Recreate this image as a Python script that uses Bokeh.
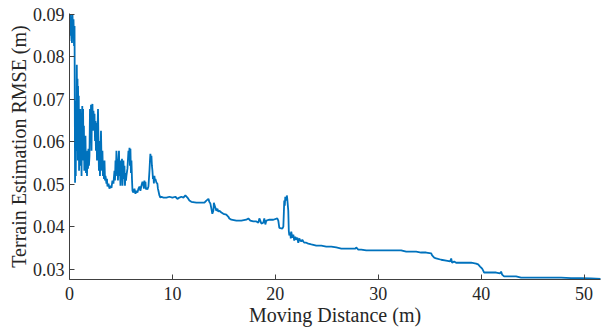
from bokeh.plotting import figure
from bokeh.models import Range1d, FixedTicker, ColumnDataSource
from bokeh.embed import file_html
from bokeh.resources import INLINE

distance = [
    0.00, 0.05, 0.10, 0.15, 0.19, 0.24, 0.29, 0.34, 0.39, 0.44,
    0.49, 0.51, 0.54, 0.58, 0.61, 0.64, 0.68, 0.71, 0.74, 0.78,
    0.81, 0.83, 0.87, 0.90, 0.93, 0.97, 1.01, 1.05, 1.09, 1.13,
    1.17, 1.20, 1.24, 1.28, 1.32, 1.36, 1.40, 1.44, 1.48, 1.51,
    1.55, 1.60, 1.65, 1.70, 1.75, 1.80, 1.84, 1.89, 1.94, 1.99,
    2.04, 2.09, 2.14, 2.18, 2.23, 2.28, 2.33, 2.38, 2.43, 2.48,
    2.52, 2.57, 2.62, 2.67, 2.72, 2.77, 2.82, 2.86, 2.91, 2.96,
    3.01, 3.06, 3.11, 3.16, 3.20, 3.25, 3.30, 3.35, 3.40, 3.45,
    3.50, 3.59, 3.64, 3.69, 3.79, 3.88, 3.98, 4.08, 4.17, 4.27,
    4.37, 4.42, 4.47, 4.51, 4.56, 4.61, 4.66, 4.71, 4.76, 4.81,
    4.85, 4.90, 4.95, 5.00, 5.05, 5.10, 5.15, 5.19, 5.24, 5.29,
    5.34, 5.39, 5.44, 5.49, 5.53, 5.63, 5.73, 5.78, 5.83, 5.87,
    5.92, 5.97, 6.02, 6.07, 6.12, 6.21, 6.31, 6.41, 6.50, 6.60,
    6.70, 6.80, 6.89, 6.99, 7.09, 7.18, 7.23, 7.28, 7.33, 7.38,
    7.43, 7.48, 7.57, 7.67, 7.72, 7.77, 7.82, 7.86, 7.91, 7.96,
    8.01, 8.06, 8.11, 8.16, 8.20, 8.25, 8.30, 8.35, 8.45, 8.54,
    8.59, 8.64, 8.74, 8.83, 8.93, 9.13, 9.42, 9.71, 10.00, 10.29,
    10.49, 10.68, 10.87, 11.07, 11.26, 11.46, 11.65, 11.84, 12.33, 12.82,
    13.11, 13.30, 13.50, 13.59, 13.69, 13.79, 13.88, 13.98, 14.03, 14.08,
    14.18, 14.27, 14.37, 14.47, 14.56, 14.76, 14.95, 15.24, 15.44, 15.53,
    15.73, 16.21, 16.70, 17.18, 17.38, 17.57, 17.86, 18.16, 18.35, 18.45,
    18.54, 18.64, 18.83, 18.93, 19.03, 19.13, 19.42, 19.81, 20.19, 20.29,
    20.39, 20.68, 20.78, 20.83, 20.87, 20.92, 20.97, 21.07, 21.12, 21.17,
    21.26, 21.31, 21.36, 21.46, 21.50, 21.55, 21.65, 21.75, 21.84, 21.94,
    22.04, 22.14, 22.23, 22.33, 22.43, 22.52, 22.62, 22.72, 22.82, 23.01,
    23.20, 23.50, 23.98, 24.47, 24.95, 25.44, 25.92, 26.41, 26.89, 27.38,
    27.77, 27.86, 28.06, 28.35, 28.84, 29.32, 30.29, 31.26, 32.23, 32.72,
    33.20, 33.69, 34.17, 34.66, 35.15, 35.24, 35.44, 35.63, 36.12, 36.60,
    36.99, 37.09, 37.18, 37.38, 37.57, 38.06, 38.54, 39.03, 39.51, 39.71,
    39.90, 40.10, 40.19, 40.29, 40.49, 40.97, 41.46, 41.84, 41.94, 42.04,
    42.23, 42.72, 43.40, 43.88, 44.85, 45.83, 46.80, 47.77, 48.74, 49.71,
    50.68, 51.65,
]

rmse = [
    0.0837, 0.0879, 0.0900, 0.0849, 0.0893, 0.0832, 0.0898, 0.0860, 0.0888, 0.0825,
    0.0872, 0.0720, 0.0504, 0.0626, 0.0520, 0.0696, 0.0579, 0.0781, 0.0649, 0.0748,
    0.0556, 0.0731, 0.0602, 0.0708, 0.0532, 0.0673, 0.0579, 0.0677, 0.0544, 0.0649,
    0.0520, 0.0614, 0.0684, 0.0579, 0.0677, 0.0556, 0.0638, 0.0532, 0.0602, 0.0556,
    0.0614, 0.0527, 0.0567, 0.0520, 0.0579, 0.0537, 0.0584, 0.0544, 0.0567, 0.0677,
    0.0602, 0.0687, 0.0579, 0.0682, 0.0689, 0.0626, 0.0673, 0.0638, 0.0666, 0.0602,
    0.0649, 0.0579, 0.0645, 0.0556, 0.0626, 0.0677, 0.0591, 0.0532, 0.0602, 0.0520,
    0.0567, 0.0626, 0.0556, 0.0532, 0.0579, 0.0520, 0.0544, 0.0513, 0.0556, 0.0509,
    0.0520, 0.0502, 0.0513, 0.0495, 0.0502, 0.0490, 0.0497, 0.0492, 0.0509, 0.0502,
    0.0532, 0.0509, 0.0556, 0.0520, 0.0579, 0.0544, 0.0556, 0.0509, 0.0556, 0.0579,
    0.0520, 0.0544, 0.0497, 0.0556, 0.0520, 0.0560, 0.0497, 0.0532, 0.0556, 0.0513,
    0.0544, 0.0497, 0.0527, 0.0509, 0.0520, 0.0537, 0.0579, 0.0560, 0.0586, 0.0544,
    0.0584, 0.0527, 0.0556, 0.0513, 0.0485, 0.0481, 0.0490, 0.0478, 0.0485, 0.0481,
    0.0490, 0.0495, 0.0485, 0.0497, 0.0506, 0.0499, 0.0490, 0.0509, 0.0497, 0.0506,
    0.0488, 0.0492, 0.0488, 0.0495, 0.0513, 0.0532, 0.0556, 0.0572, 0.0556, 0.0567,
    0.0544, 0.0532, 0.0513, 0.0518, 0.0502, 0.0520, 0.0509, 0.0513, 0.0504, 0.0502,
    0.0490, 0.0485, 0.0474, 0.0469, 0.0471, 0.0469, 0.0469, 0.0471, 0.0469, 0.0471,
    0.0466, 0.0469, 0.0471, 0.0469, 0.0474, 0.0469, 0.0462, 0.0459, 0.0457, 0.0457,
    0.0457, 0.0462, 0.0466, 0.0459, 0.0455, 0.0443, 0.0431, 0.0438, 0.0457, 0.0452,
    0.0445, 0.0438, 0.0443, 0.0436, 0.0438, 0.0434, 0.0431, 0.0429, 0.0424, 0.0420,
    0.0417, 0.0415, 0.0415, 0.0417, 0.0420, 0.0415, 0.0413, 0.0413, 0.0410, 0.0420,
    0.0415, 0.0408, 0.0410, 0.0420, 0.0406, 0.0415, 0.0417, 0.0417, 0.0420, 0.0415,
    0.0398, 0.0396, 0.0401, 0.0434, 0.0462, 0.0450, 0.0471, 0.0462, 0.0474, 0.0464,
    0.0438, 0.0391, 0.0380, 0.0387, 0.0373, 0.0389, 0.0375, 0.0382, 0.0368, 0.0377,
    0.0370, 0.0375, 0.0363, 0.0373, 0.0368, 0.0366, 0.0370, 0.0366, 0.0363, 0.0363,
    0.0361, 0.0359, 0.0356, 0.0356, 0.0354, 0.0354, 0.0352, 0.0349, 0.0349, 0.0349,
    0.0349, 0.0352, 0.0347, 0.0347, 0.0345, 0.0345, 0.0345, 0.0345, 0.0345, 0.0342,
    0.0342, 0.0342, 0.0340, 0.0340, 0.0338, 0.0333, 0.0328, 0.0326, 0.0323, 0.0321,
    0.0319, 0.0326, 0.0316, 0.0319, 0.0316, 0.0316, 0.0316, 0.0316, 0.0314, 0.0312,
    0.0307, 0.0302, 0.0298, 0.0293, 0.0293, 0.0293, 0.0293, 0.0291, 0.0295, 0.0288,
    0.0284, 0.0284, 0.0284, 0.0281, 0.0281, 0.0281, 0.0281, 0.0281, 0.0280, 0.0280,
    0.0279, 0.0278,
]

x_ticks = [0, 10, 20, 30, 40, 50]
y_ticks = [0.03, 0.04, 0.05, 0.06, 0.07, 0.08, 0.09]
y_tick_labels = {0.03: "0.03", 0.04: "0.04", 0.05: "0.05", 0.06: "0.06",
                 0.07: "0.07", 0.08: "0.08", 0.09: "0.09"}

FONT = "Liberation Serif"
TEXT = "#262626"

source = ColumnDataSource(data=dict(x=distance, y=rmse))

p = figure(width=605, height=329, output_backend="svg", toolbar_location=None,
           x_range=Range1d(0, 51.6), y_range=Range1d(0.02766, 0.09015),
           min_border_left=69, min_border_right=5, min_border_top=13,
           min_border_bottom=50)

p.line("x", "y", source=source, line_color="#0072BD", line_width=1.8)

p.outline_line_color = None
p.grid.visible = False
p.background_fill_color = "white"
p.border_fill_color = "white"

p.xaxis.ticker = FixedTicker(ticks=x_ticks)
p.yaxis.ticker = FixedTicker(ticks=y_ticks)
p.yaxis.major_label_overrides = y_tick_labels

for ax in (p.xaxis[0], p.yaxis[0]):
    ax.axis_line_color = "#404040"
    ax.axis_line_width = 1
    ax.major_tick_line_color = "#404040"
    ax.major_tick_in = 5
    ax.major_tick_out = 0
    ax.minor_tick_line_color = None
    ax.major_label_text_font = FONT
    ax.major_label_text_font_size = "18px"
    ax.major_label_text_color = TEXT
    ax.axis_label_text_font = FONT
    ax.axis_label_text_font_size = "20px"
    ax.axis_label_text_font_style = "normal"
    ax.axis_label_text_color = TEXT

p.xaxis.axis_label = "Moving Distance (m)"
p.yaxis.axis_label = "Terrain Estimation RMSE (m)"
p.xaxis.major_label_standoff = 7
p.yaxis.major_label_standoff = 5
p.xaxis.axis_label_standoff = 1
p.yaxis.axis_label_standoff = 0

open("out.html", "w").write(file_html(p, INLINE))
